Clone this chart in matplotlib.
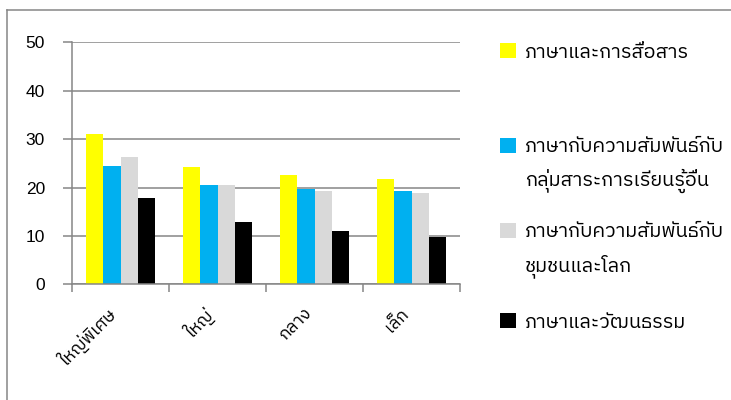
import matplotlib as mpl
import matplotlib.pyplot as plt
import numpy as np
from matplotlib import font_manager
from matplotlib.ft2font import FT2Font
from matplotlib.lines import Line2D

#Datos
grupos = ['ใหญ่พิเศษ', 'ใหญ่', 'กลาง', 'เล็ก']
series = ['ภาษาและการสื่อสาร', 'ภาษากับความสัมพันธ์กับ\nกลุ่มสาระการเรียนรู้อื่น',
          'ภาษากับความสัมพันธ์กับ\nชุมชนและโลก', 'ภาษาและวัฒนธรรม']
v1 = [31.1, 24.2, 22.6, 21.7]
v2 = [24.4, 20.5, 19.6, 19.3]
v3 = [26.4, 20.6, 19.3, 18.9]
v4 = [17.8, 12.8, 11.0, 9.8]
colores = ['#ffff00', '#00b0f0', '#d9d9d9', '#000000']
yticks = [0, 10, 20, 30, 40, 50]

#buscar una fuente con glifos tailandeses
thai = None
for f in font_manager.fontManager.ttflist:
    try:
        if FT2Font(f.fname).get_char_index(0x0E20):
            thai = f.name
            if 'Sans' in f.name:
                break
    except Exception:
        pass
fam_thai = [thai, 'DejaVu Sans'] if thai else ['DejaVu Sans']
plt.rcParams['font.family'] = ['Liberation Sans', 'DejaVu Sans']

gris = '#868686'
fig = plt.figure(figsize=[7.31, 4.0], dpi=100)
W, H = 731., 400.
ax = fig.add_axes((72/W, 1-284.3/H, (460-72)/W, (284.3-42.3)/H))

x = np.arange(len(grupos))
w = 0.18
barras = []
for k, v in enumerate([v1, v2, v3, v4]):
    b = ax.bar(x + (k-1.5)*w, v, w, color=colores[k], linewidth=0, zorder=3)
    barras.append(b)

ax.set_xlim(-0.5, len(grupos)-0.5)
ax.set_ylim(0, 50)
ax.set_yticks(yticks)
ax.yaxis.grid(True, color=gris, linewidth=1.1, zorder=0)
ax.tick_params(axis='y', length=6.5, width=1.1, color=gris, pad=13, labelsize=12.5)
ax.set_xticks(np.arange(len(grupos)+1)-0.5)
ax.set_xticklabels([])
ax.set_xticks(x, minor=True)
ax.set_xticklabels(grupos, minor=True, rotation=45, ha='right', va='top',
                   family=fam_thai, fontsize=12.5)
ax.tick_params(axis='x', which='major', length=6, width=1.1, color=gris)
ax.tick_params(axis='x', which='minor', length=0, pad=15)
for lado in ['top', 'right']:
    ax.spines[lado].set_visible(False)
for lado in ['left', 'bottom']:
    ax.spines[lado].set_color(gris)
    ax.spines[lado].set_linewidth(1.1)
    ax.spines[lado].set_zorder(4)

#leyenda, una entrada cada vez
ypos = [52, 147, 232, 322]
for k in range(4):
    lineas = series[k].split('\n')
    fig.legend(handles=[barras[k]], labels=[lineas[0]], loc='center left',
               bbox_to_anchor=(500/W, 1-ypos[k]/H), frameon=False,
               prop={'family': fam_thai, 'size': 14.3}, handlelength=0.8,
               handleheight=0.8, handletextpad=0.45, borderpad=0, borderaxespad=0)
    if len(lineas) > 1:
        fig.text(525/W, 1-(ypos[k]+34)/H, lineas[1], family=fam_thai, fontsize=14.3,
                 va='center', ha='left')

#marco
fig.add_artist(Line2D([7/W, 7/W], [0, 1-10/H], color=gris, linewidth=1.1))
fig.add_artist(Line2D([7/W, 1], [1-10/H, 1-10/H], color=gris, linewidth=1.1))

plt.savefig('out.png', dpi=100)
